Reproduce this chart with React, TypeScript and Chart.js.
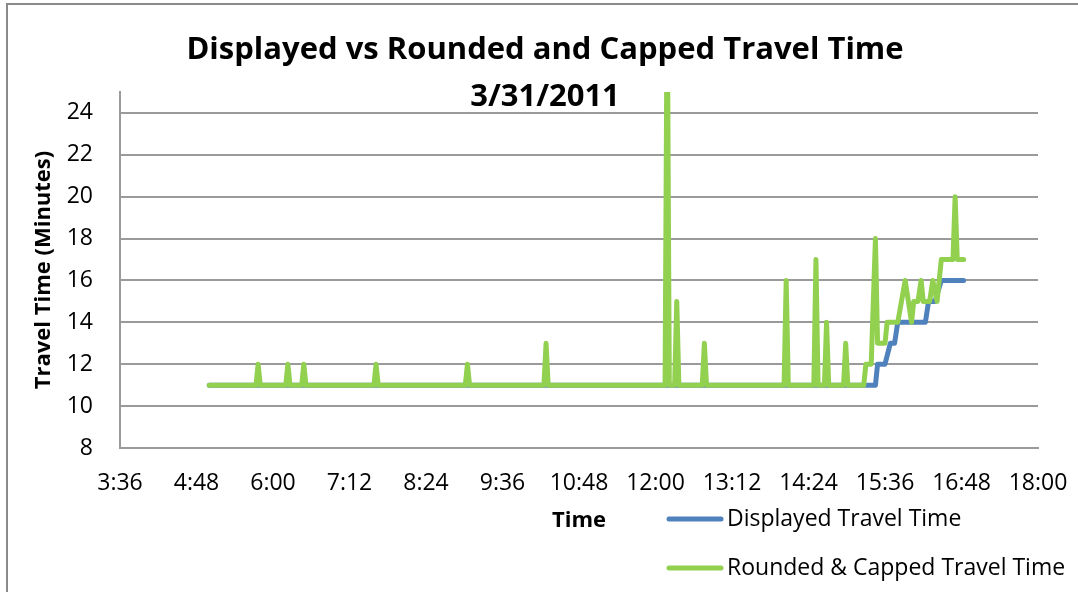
import React, { useEffect, useRef } from "react";
import { Chart, registerables } from "chart.js";

Chart.register(...registerables);

const chartTitle = ["Displayed vs Rounded and Capped Travel Time", "3/31/2011"];
const xAxisTitle = "Time";
const yAxisTitle = "Travel Time (Minutes)";
const seriesNames = ["Displayed Travel Time", "Rounded & Capped Travel Time"];
const seriesColors = ["#4F81BD", "#92D050"];

const xTickLabels = ["3:36", "4:48", "6:00", "7:12", "8:24", "9:36", "10:48", "12:00", "13:12", "14:24", "15:36", "16:48", "18:00"];
const yTickValues = [8, 10, 12, 14, 16, 18, 20, 22, 24];
const yMin = 8;
const yMax = 25;

const displayedTimes = ["5:00", "15:27", "15:29", "15:36", "15:41", "15:45", "15:48", "16:14", "16:17", "16:23", "16:29", "16:50"];
const displayedValues = [11, 11, 12, 12, 13, 13, 14, 14, 15, 15, 16, 16];

const roundedTimes = [
  "5:00",
  "5:44", "5:46", "5:48",
  "6:12", "6:14", "6:16",
  "6:27", "6:29", "6:31",
  "7:35", "7:37", "7:39",
  "9:01", "9:03", "9:05",
  "10:15", "10:17", "10:19",
  "12:09", "12:11", "12:13",
  "12:18", "12:20", "12:22",
  "12:44", "12:46", "12:48",
  "14:01", "14:03", "14:05",
  "14:29", "14:31", "14:33",
  "14:39", "14:41", "14:43",
  "14:57", "14:59", "15:01",
  "15:16", "15:18", "15:23", "15:27", "15:29", "15:36", "15:38", "15:48", "15:55",
  "16:01", "16:03", "16:07", "16:10", "16:12", "16:18", "16:21", "16:25", "16:29",
  "16:40", "16:42", "16:44", "16:50",
];
const roundedValues = [
  11,
  11, 12, 11,
  11, 12, 11,
  11, 12, 11,
  11, 12, 11,
  11, 12, 11,
  11, 13, 11,
  11, 30, 11,
  11, 15, 11,
  11, 13, 11,
  11, 16, 11,
  11, 17, 11,
  11, 14, 11,
  11, 13, 11,
  11, 12, 12, 18, 13, 13, 14, 14, 16,
  14, 15, 15, 16, 15, 15, 16, 15, 17,
  17, 20, 17, 17,
];

const toMinutes = (s: string) => {
  const [h, m] = s.split(":").map(Number);
  return h * 60 + m;
};

const FONT = "'Open Sans'";

const overlayPlugin = {
  id: "overlay",
  afterDraw(chart: any) {
    const ctx = chart.ctx as CanvasRenderingContext2D;
    ctx.save();
    ctx.fillStyle = "#000";
    ctx.textAlign = "center";
    ctx.textBaseline = "middle";
    ctx.font = `bold 31px ${FONT}`;
    ctx.fillText(chartTitle[0], 545, 50);
    ctx.fillText(chartTitle[1], 545, 97);

    const rows = [519, 568];
    seriesNames.forEach((name, i) => {
      ctx.strokeStyle = seriesColors[i];
      ctx.lineWidth = 5;
      ctx.lineCap = "round";
      ctx.beginPath();
      ctx.moveTo(669, rows[i]);
      ctx.lineTo(721, rows[i]);
      ctx.stroke();
      ctx.fillStyle = "#000";
      ctx.textAlign = "left";
      ctx.font = `23px ${FONT}`;
      ctx.fillText(name, 727, rows[i]);
    });
    ctx.restore();
  },
};

export default function App() {
  const ref = useRef<HTMLCanvasElement | null>(null);

  useEffect(() => {
    if (!ref.current) return;
    Chart.defaults.font.family = FONT;
    Chart.defaults.color = "#000";
    const gridColor = "#9a9a9a";
    const chart = new Chart(ref.current, {
      type: "line",
      data: {
        datasets: [
          {
            label: seriesNames[1],
            data: roundedTimes.map((t, i) => ({ x: toMinutes(t), y: roundedValues[i] })),
            borderColor: seriesColors[1],
            backgroundColor: seriesColors[1],
            borderWidth: 5,
            borderCapStyle: "round",
            borderJoinStyle: "round",
            pointRadius: 0,
            tension: 0,
            order: 0,
          },
          {
            label: seriesNames[0],
            data: displayedTimes.map((t, i) => ({ x: toMinutes(t), y: displayedValues[i] })),
            borderColor: seriesColors[0],
            backgroundColor: seriesColors[0],
            borderWidth: 5,
            borderCapStyle: "round",
            borderJoinStyle: "round",
            pointRadius: 0,
            tension: 0,
            order: 1,
          },
        ],
      },
      options: {
        animation: false,
        responsive: false,
        layout: { padding: { top: 92, right: 40, bottom: 0, left: 0 } },
        plugins: {
          legend: { display: false },
          title: { display: false },
          tooltip: { enabled: false },
        },
        scales: {
          x: {
            type: "linear",
            min: toMinutes(xTickLabels[0]),
            max: toMinutes(xTickLabels[xTickLabels.length - 1]),
            afterBuildTicks: (s: any) => {
              s.ticks = xTickLabels.map((l) => ({ value: toMinutes(l) }));
            },
            afterFit: (s: any) => {
              s.height = 144;
              s.paddingLeft = 0;
              s.paddingRight = 0;
            },
            ticks: {
              autoSkip: false,
              maxRotation: 0,
              padding: 22,
              font: { size: 23 },
              color: "#000",
              callback: (_v: any, i: number) => xTickLabels[i],
            },
            grid: { display: false, drawTicks: false },
            border: { display: true, color: gridColor, width: 2 },
            title: {
              display: true,
              text: xAxisTitle,
              font: { size: 22, weight: "bold" },
              color: "#000",
              padding: { top: 0, bottom: 58 },
            },
          },
          y: {
            min: yMin,
            max: yMax,
            afterBuildTicks: (s: any) => {
              s.ticks = yTickValues.map((v) => ({ value: v }));
            },
            afterFit: (s: any) => {
              s.width = 120;
              s.paddingTop = 0;
              s.paddingBottom = 0;
            },
            ticks: {
              padding: 27,
              font: { size: 23 },
              color: "#000",
            },
            grid: { color: gridColor, lineWidth: 2, drawTicks: false },
            border: { display: true, color: gridColor, width: 2 },
            title: {
              display: true,
              text: yAxisTitle,
              font: { size: 22, weight: "bold" },
              color: "#000",
              padding: { top: 31, bottom: 0 },
            },
          },
        },
      },
      plugins: [overlayPlugin],
    } as any);
    return () => chart.destroy();
  }, []);

  return (
    <div style={{ position: "fixed", left: 0, top: 0, width: 1078, height: 592, overflow: "hidden", background: "#fff" }}>
      <canvas ref={ref} width={1078} height={592} style={{ display: "block", position: "absolute", left: 0, top: 0 }} />
      <div
        style={{
          position: "absolute",
          left: 6,
          top: 3,
          width: 1200,
          height: 800,
          border: "2px solid #8a8a8a",
          pointerEvents: "none",
        }}
      />
    </div>
  );
}
